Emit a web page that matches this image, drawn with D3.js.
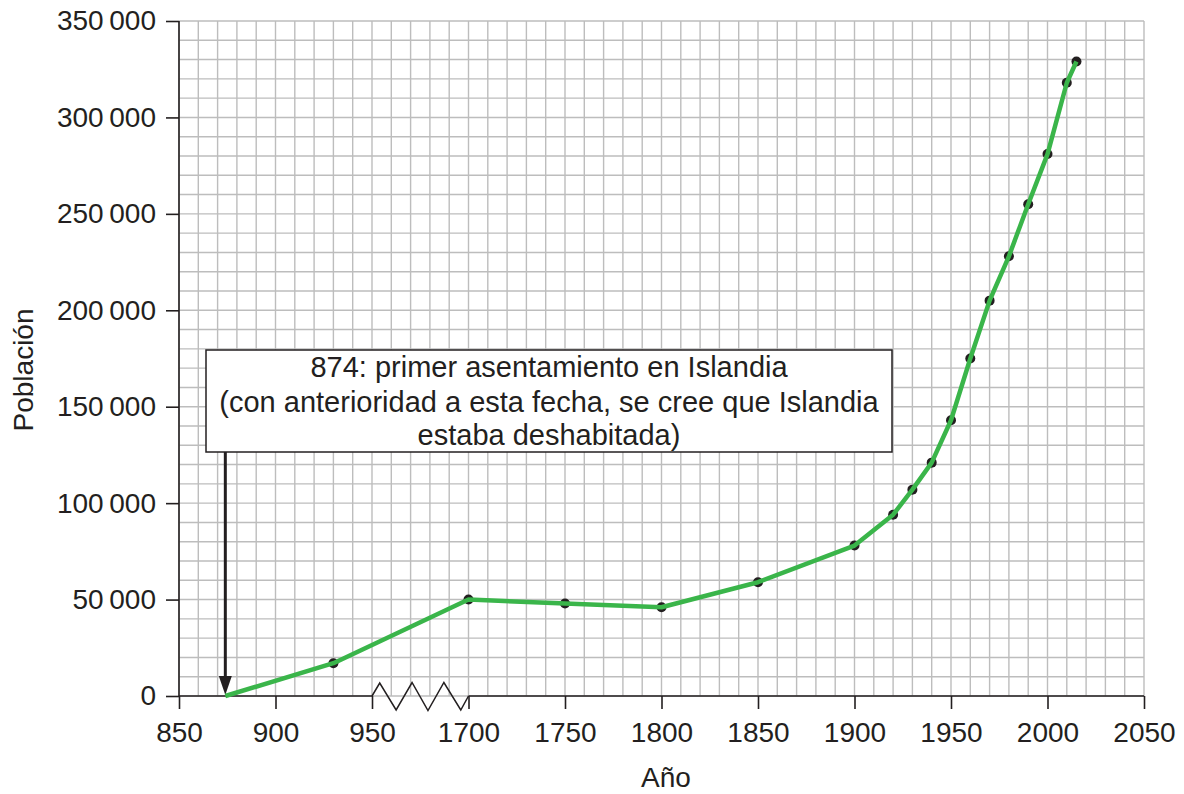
<!DOCTYPE html>
<html><head><meta charset="utf-8">
<script src="https://cdn.jsdelivr.net/npm/d3@7"></script>
<style>
html,body{margin:0;padding:0;background:#fff;}
text{font-family:"Liberation Sans",Arial,sans-serif;fill:#231f20;}
</style></head>
<body><svg id="c" width="1184" height="794"></svg>
<script>
const years = [874, 930, 1700, 1750, 1800, 1850, 1900, 1920, 1930, 1940, 1950, 1960, 1970, 1980, 1990, 2000, 2010, 2015];
const population = [0, 17000, 50000, 48000, 46000, 59000, 78000, 94000, 107000, 121000, 143000, 175000, 205000, 228000, 255000, 281000, 318000, 329000];
const markerShown = [false, true, true, true, true, true, true, true, true, true, true, true, true, true, true, true, true, true];
const xTickYears = [850, 900, 950, 1700, 1750, 1800, 1850, 1900, 1950, 2000, 2050];
const yTicks = [0, 50000, 100000, 150000, 200000, 250000, 300000, 350000];
const annotationYear = 874;
const annotationLines = ["874: primer asentamiento en Islandia", "(con anterioridad a esta fecha, se cree que Islandia", "estaba deshabitada)"];
const breakStart = 950, breakEnd = 1700;

const gap = breakEnd - breakStart - 50; // compressed break is one tick interval
const virt = y => y <= breakStart ? y : y - gap;

const svg = d3.select("#c");
const L = 179, R = 1144, T = 21, B = 696;
const FS = 28;
const x = d3.scaleLinear().domain([850, virt(2050)]).range([L, R]);
const y = d3.scaleLinear().domain([0, 350000]).range([B, T]);

const loc = d3.formatLocale({decimal: ",", thousands: "\u2009", grouping: [3], currency: ["", ""]});
const fmt = loc.format(",d");

// grid
const g = svg.append("g");
const vx = d3.range(850, virt(2050) + 0.1, 10);
g.selectAll("line.v").data(vx).join("line")
  .attr("x1", d => x(d)).attr("x2", d => x(d)).attr("y1", T).attr("y2", B)
  .attr("stroke", "#bdbdbd").attr("stroke-width", 1.4);
const hy = d3.range(0, 350001, 10000);
g.selectAll("line.h").data(hy).join("line")
  .attr("x1", L).attr("x2", R).attr("y1", d => y(d)).attr("y2", d => y(d))
  .attr("stroke", "#bdbdbd").attr("stroke-width", 1.4);

// y axis
const ya = svg.append("g").attr("transform", `translate(${L},0)`)
  .call(d3.axisLeft(y).tickValues(yTicks).tickFormat(fmt).tickSize(13).tickPadding(10));
ya.select(".domain").attr("stroke", "#231f20").attr("stroke-width", 1.6).attr("d", `M0,${B}V${T}`);
ya.selectAll(".tick line").attr("stroke", "#231f20").attr("stroke-width", 1.6);
ya.selectAll(".tick text").attr("font-size", FS).attr("font-family", "Liberation Sans, Arial, sans-serif").attr("fill", "#231f20");

// x axis
const xa = svg.append("g").attr("transform", `translate(0,${B})`)
  .call(d3.axisBottom(x).tickValues(xTickYears.map(virt)).tickFormat((d, i) => xTickYears[i]).tickSize(13).tickPadding(13));
xa.select(".domain").remove();
xa.selectAll(".tick line").attr("stroke", "#231f20").attr("stroke-width", 1.6);
xa.selectAll(".tick text").attr("font-size", FS).attr("font-family", "Liberation Sans, Arial, sans-serif").attr("fill", "#231f20");
const xb0 = x(virt(breakStart)), xb1 = x(virt(breakEnd));
svg.append("line").attr("x1", L).attr("x2", xb0).attr("y1", B).attr("y2", B).attr("stroke", "#231f20").attr("stroke-width", 1.6);
svg.append("line").attr("x1", xb1).attr("x2", R).attr("y1", B).attr("y2", B).attr("stroke", "#231f20").attr("stroke-width", 1.6);
// zigzag break
const w = xb1 - xb0;
const zz = [[0,0],[0.08,-13],[0.25,14],[0.415,-13.5],[0.58,14.5],[0.745,-13.5],[0.92,14],[1,0]];
svg.append("path").attr("d", d3.line()(zz.map(p => [xb0 + p[0]*w, B + p[1]])))
  .attr("fill", "none").attr("stroke", "#231f20").attr("stroke-width", 1.5);

// axis titles
svg.append("text").attr("x", 666).attr("y", 787).attr("text-anchor", "middle").attr("font-size", FS).text("Año");
svg.append("text").attr("transform", `translate(33,370) rotate(-90)`).attr("text-anchor", "middle").attr("font-size", FS).text("Población");

// annotation box
const bx0 = 206, bx1 = 892, by0 = 350, by1 = 452;
const ax = x(virt(annotationYear));
svg.append("rect").attr("x", bx0).attr("y", by0).attr("width", bx1 - bx0).attr("height", by1 - by0)
  .attr("fill", "#fff").attr("stroke", "#231f20").attr("stroke-width", 1.5);
const baselines = [377, 411.5, 445];
annotationLines.forEach((t, i) => {
  svg.append("text").attr("x", (bx0 + bx1)/2).attr("y", baselines[i]).attr("text-anchor", "middle")
    .attr("font-size", 29).text(t);
});
svg.append("line").attr("x1", ax).attr("x2", ax).attr("y1", by1).attr("y2", y(0) - 18)
  .attr("stroke", "#231f20").attr("stroke-width", 3);
svg.append("path").attr("d", `M${ax-6.5},${y(0)-20}L${ax+6.5},${y(0)-20}L${ax},${y(0)-1}Z`).attr("fill", "#231f20");

// data line
const pts = years.map((yr, i) => [x(virt(yr)), y(population[i])]);
svg.selectAll("circle.m").data(years.map((yr, i) => ({yr, v: population[i], s: markerShown[i]})).filter(d => d.s))
  .join("circle").attr("cx", d => x(virt(d.yr))).attr("cy", d => y(d.v)).attr("r", 5)
  .attr("fill", "#231f20");
svg.append("path").attr("d", d3.line()(pts)).attr("fill", "none")
  .attr("stroke", "#3ab54a").attr("stroke-width", 4.5).attr("stroke-linejoin", "round");
</script></body></html>
